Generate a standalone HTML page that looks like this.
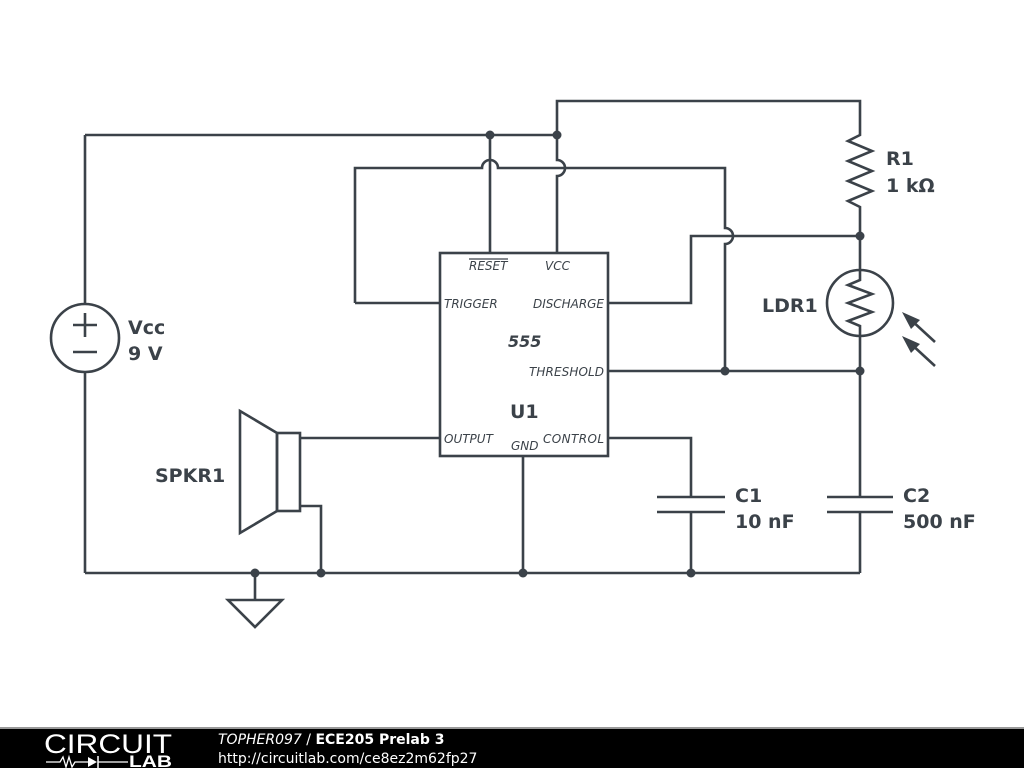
<!DOCTYPE html>
<html><head><meta charset="utf-8"><style>
html,body{margin:0;padding:0;background:#fff;width:1024px;height:768px;overflow:hidden}
</style></head><body>
<svg width="1024" height="768" viewBox="0 0 1024 768" xmlns="http://www.w3.org/2000/svg" font-family="DejaVu Sans, sans-serif">
<g stroke="#3b4249" stroke-width="2.6" fill="none" stroke-linejoin="miter">
<polyline points="557,135 557,101 860,101 860,130"/>
<line x1="85" y1="135" x2="557" y2="135"/>
<path d="M557,135 V160 A8,8 0 0 1 557,176 V253"/>
<path d="M355,303 V168 H482 A8,8 0 0 1 498,168 H725 V228 A8,8 0 0 1 725,244 V371"/>
<line x1="355" y1="303" x2="440" y2="303"/>
<line x1="490" y1="135" x2="490" y2="253"/>
<rect x="440" y="253" width="168" height="203" fill="#fff"/>
<polyline points="608,303 691,303 691,236 860,236"/>
<polyline points="860,130 860,135 848,141 872,151 848,161 872,171 848,181 872,191 848,201 860,207 860,236"/>
<circle cx="860" cy="303" r="33"/>
<polyline points="860,236 860,280 848,285 872,294 848,303 872,312 848,321 860,326 860,371"/>
<line x1="935" y1="342" x2="910" y2="319"/>
<line x1="935" y1="366" x2="910" y2="343"/>
<line x1="608" y1="371" x2="860" y2="371"/>
<line x1="860" y1="371" x2="860" y2="497"/>
<line x1="827" y1="497" x2="893" y2="497"/>
<line x1="827" y1="512" x2="893" y2="512"/>
<line x1="860" y1="512" x2="860" y2="573"/>
<polyline points="608,438 691,438 691,497"/>
<line x1="657" y1="497" x2="725" y2="497"/>
<line x1="657" y1="512" x2="725" y2="512"/>
<line x1="691" y1="512" x2="691" y2="573"/>
<line x1="523" y1="456" x2="523" y2="573"/>
<line x1="85" y1="573" x2="860" y2="573"/>
<circle cx="85" cy="338" r="34"/>
<line x1="85" y1="135" x2="85" y2="304"/>
<line x1="85" y1="372" x2="85" y2="573"/>
<line x1="73" y1="325" x2="97" y2="325"/><line x1="85" y1="313" x2="85" y2="337"/>
<line x1="73" y1="352" x2="97" y2="352"/>
<line x1="255" y1="573" x2="255" y2="600"/>
<polygon points="228,600 282,600 255,627"/>
<rect x="277" y="433" width="23" height="78"/>
<polygon points="240,411 277,433 277,511 240,533"/>
<line x1="300" y1="438" x2="440" y2="438"/>
<polyline points="300,506 321,506 321,573"/>
</g>
<g fill="#3b4249">
<circle cx="490" cy="135" r="4.5"/><circle cx="557" cy="135" r="4.5"/>
<circle cx="860" cy="236" r="4.5"/><circle cx="725" cy="371" r="4.5"/><circle cx="860" cy="371" r="4.5"/>
<circle cx="255" cy="573" r="4.5"/><circle cx="321" cy="573" r="4.5"/><circle cx="523" cy="573" r="4.5"/><circle cx="691" cy="573" r="4.5"/>
<polygon points="902,312 920,320 911,329"/>
<polygon points="902,336 920,344 911,353"/>
</g>
<g fill="#3b4249" font-style="italic" font-size="12">
<text x="469" y="270">RESET</text><line x1="469" y1="259" x2="508" y2="259" stroke="#3b4249" stroke-width="1.3"/>
<text x="545" y="270">VCC</text>
<text x="444" y="308">TRIGGER</text>
<text x="533" y="308" textLength="71">DISCHARGE</text>
<text x="529" y="376" textLength="75">THRESHOLD</text>
<text x="444" y="443">OUTPUT</text>
<text x="543" y="443" textLength="61">CONTROL</text>
<text x="511" y="450">GND</text>
<text x="508" y="347" font-size="16" font-weight="bold">555</text>
</g>
<g fill="#3b4249" font-weight="bold" font-size="19">
<text x="510" y="418">U1</text>
<text x="886" y="165">R1</text><text x="886" y="192">1 kΩ</text>
<text x="762" y="312">LDR1</text>
<text x="735" y="502">C1</text><text x="735" y="528">10 nF</text>
<text x="903" y="502">C2</text><text x="903" y="528">500 nF</text>
<text x="128" y="334">Vcc</text><text x="128" y="360">9 V</text>
<text x="155" y="482">SPKR1</text>
</g>
<rect x="0" y="729" width="1024" height="39" fill="#000"/>
<rect x="0" y="727" width="1024" height="2" fill="#999"/>
<text x="44" y="753" fill="#fff" font-size="27" font-family="Liberation Sans, sans-serif" textLength="128" lengthAdjust="spacingAndGlyphs">CIRCUIT</text>
<polyline points="46,762 60,762 63,757 66,767 69,757 72,767 75,762 88,762" stroke="#fff" stroke-width="1.3" fill="none"/>
<polygon points="88,757 97,762 88,767" fill="#fff"/><line x1="98" y1="756" x2="98" y2="768" stroke="#fff" stroke-width="1.5"/>
<line x1="98" y1="762" x2="128" y2="762" stroke="#fff" stroke-width="1.3"/>
<text x="129" y="767" fill="#fff" font-size="17" font-weight="bold" font-family="Liberation Sans, sans-serif" textLength="43" lengthAdjust="spacingAndGlyphs">LAB</text>
<text x="218" y="744" fill="#fff" font-size="14"><tspan font-style="italic">TOPHER097</tspan> / <tspan font-weight="bold">ECE205 Prelab 3</tspan></text>
<text x="218" y="763" fill="#fff" font-size="14">http://circuitlab.com/ce8ez2m62fp27</text>
</svg>
</body></html>
